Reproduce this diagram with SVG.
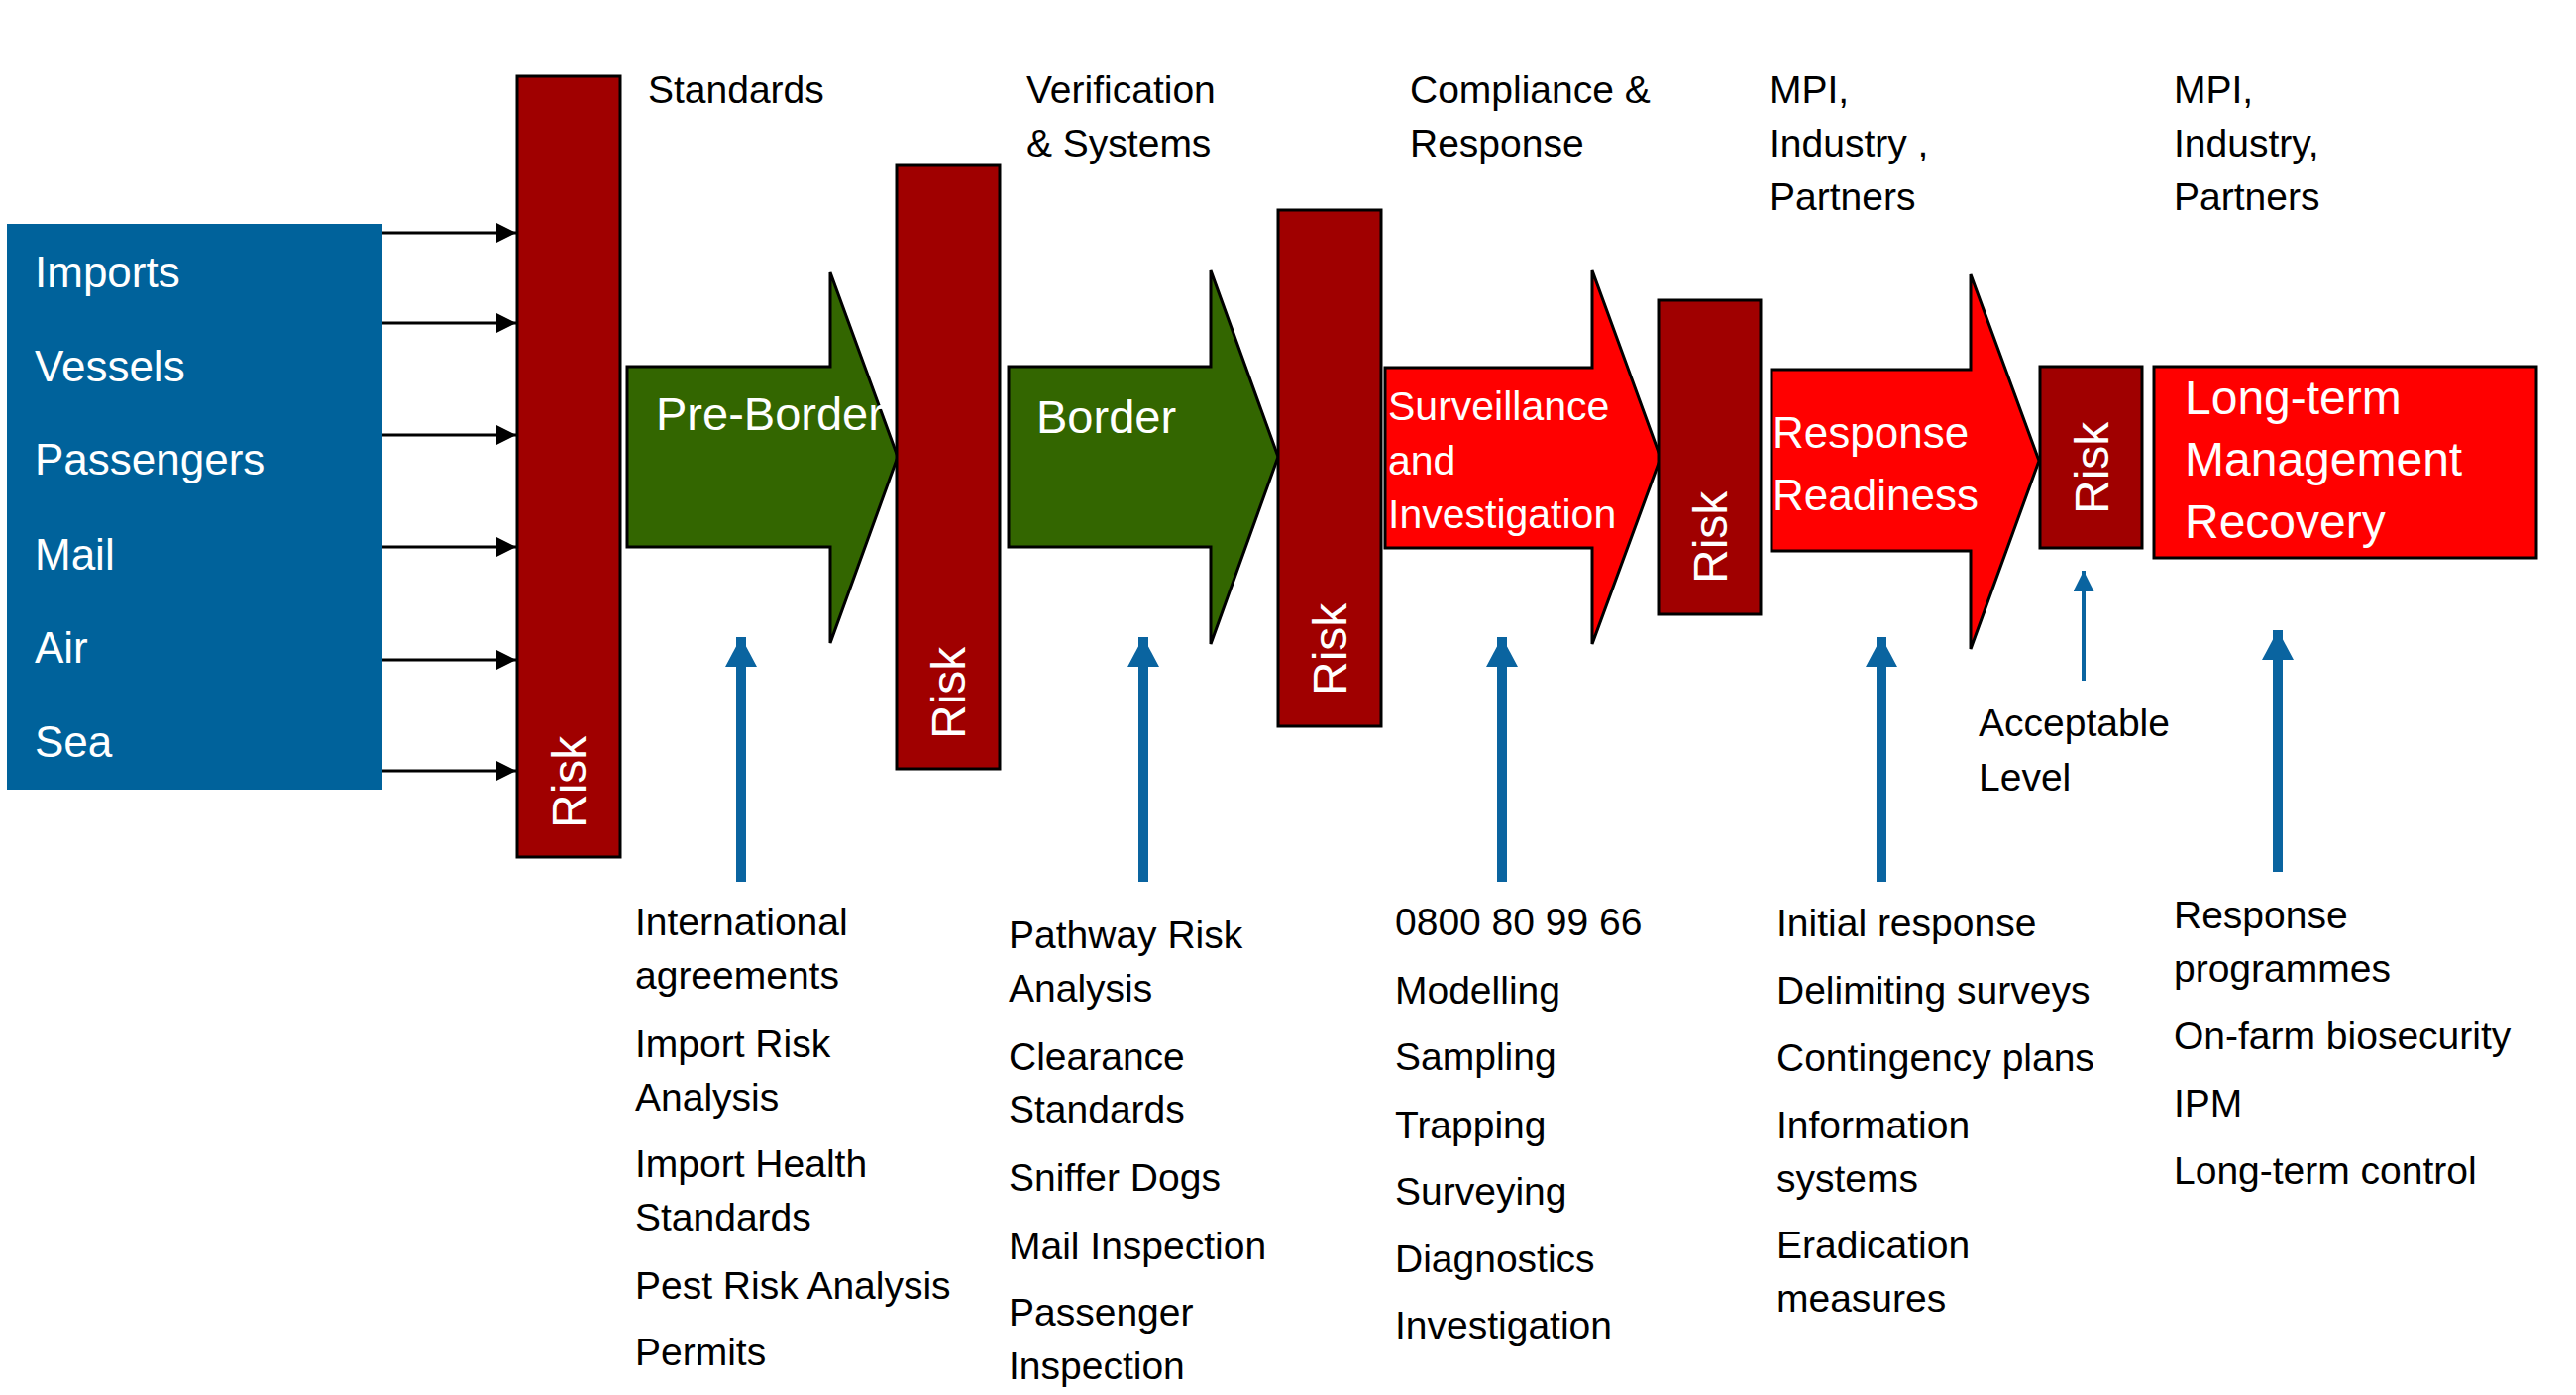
<svg xmlns="http://www.w3.org/2000/svg" width="2600" height="1408" viewBox="0 0 2600 1408">
<style>
text{font-family:"Liberation Sans",Arial,sans-serif}
.w{fill:#fff}
.k{fill:#000;font-size:39px}
.risk{fill:#A00000;stroke:#000;stroke-width:3}
.green{fill:#336600;stroke:#000;stroke-width:3}
.red{fill:#FF0000;stroke:#000;stroke-width:3}
.rt{fill:#fff;font-size:48px}
.blue{stroke:#0A64A0;stroke-width:10;fill:none}
.thin{stroke:#0A64A0;stroke-width:4;fill:none}
.blk{stroke:#000;stroke-width:3;fill:none}
</style>
<defs>
<marker id="mk" viewBox="0 0 20 20" refX="20" refY="10" markerWidth="20" markerHeight="20" markerUnits="userSpaceOnUse" orient="auto"><path d="M0,0 L20,10 L0,20 Z" fill="#000"/></marker>
<marker id="mb" viewBox="0 0 30 32" refX="30" refY="16" markerWidth="30" markerHeight="32" markerUnits="userSpaceOnUse" orient="auto"><path d="M0,0 L30,16 L0,32 Z" fill="#0A64A0"/></marker>
<marker id="mt" viewBox="0 0 21 21" refX="21" refY="10.5" markerWidth="21" markerHeight="21" markerUnits="userSpaceOnUse" orient="auto"><path d="M0,0 L21,10.5 L0,21 Z" fill="#0A64A0"/></marker>
</defs>
<rect width="2600" height="1408" fill="#fff"/>

<g id="sources">
<rect x="7" y="226" width="379" height="571" fill="#00629B"/>
<text class="w" font-size="44" x="35" y="290">Imports</text>
<text class="w" font-size="44" x="35" y="385">Vessels</text>
<text class="w" font-size="44" x="35" y="479">Passengers</text>
<text class="w" font-size="44" x="35" y="575">Mail</text>
<text class="w" font-size="44" x="35" y="669">Air</text>
<text class="w" font-size="44" x="35" y="764">Sea</text>
</g>

<g id="connectors">
<line class="blk" x1="386" y1="235" x2="521" y2="235" marker-end="url(#mk)"/>
<line class="blk" x1="386" y1="326" x2="521" y2="326" marker-end="url(#mk)"/>
<line class="blk" x1="386" y1="439" x2="521" y2="439" marker-end="url(#mk)"/>
<line class="blk" x1="386" y1="552" x2="521" y2="552" marker-end="url(#mk)"/>
<line class="blk" x1="386" y1="666" x2="521" y2="666" marker-end="url(#mk)"/>
<line class="blk" x1="386" y1="778" x2="521" y2="778" marker-end="url(#mk)"/>
<line class="blue" x1="748" y1="890" x2="748" y2="643" marker-end="url(#mb)"/>
<line class="blue" x1="1154" y1="890" x2="1154" y2="643" marker-end="url(#mb)"/>
<line class="blue" x1="1516" y1="890" x2="1516" y2="643" marker-end="url(#mb)"/>
<line class="blue" x1="1899" y1="890" x2="1899" y2="643" marker-end="url(#mb)"/>
<line class="blue" x1="2299" y1="880" x2="2299" y2="636" marker-end="url(#mb)"/>
<line class="thin" x1="2103" y1="687" x2="2103" y2="576" marker-end="url(#mt)"/>
</g>

<g id="pre-border">
<polygon class="green" points="633,370 838,370 838,275 906,461 838,649 838,552 633,552"/>
<text class="w" font-size="47" x="662" y="434">Pre-Border</text>
</g>
<g id="border">
<polygon class="green" points="1018,370 1222,370 1222,273 1290,461 1222,650 1222,552 1018,552"/>
<text class="w" font-size="47" x="1046" y="437">Border</text>
</g>
<g id="surveillance">
<polygon class="red" points="1398,371 1607,371 1607,273 1676,462 1607,650 1607,553 1398,553"/>
<text class="w" font-size="41" x="1401" y="424">Surveillance</text>
<text class="w" font-size="41" x="1401" y="479">and</text>
<text class="w" font-size="41" x="1401" y="533">Investigation</text>
</g>
<g id="response-readiness">
<polygon class="red" points="1788,373 1989,373 1989,277 2058,465 1989,655 1989,556 1788,556"/>
<text class="w" font-size="44" x="1789" y="452">Response</text>
<text class="w" font-size="44" x="1789" y="515">Readiness</text>
</g>
<g id="long-term">
<rect class="red" x="2174" y="370" width="386" height="193"/>
<text class="w" font-size="48" x="2205" y="418">Long-term</text>
<text class="w" font-size="48" x="2205" y="480">Management</text>
<text class="w" font-size="48" x="2205" y="543">Recovery</text>
</g>

<g id="risk1">
<rect class="risk" x="522" y="77" width="104" height="788"/>
<text class="rt" transform="translate(591,836) rotate(-90)">Risk</text>
</g>
<g id="risk2">
<rect class="risk" x="905" y="167" width="104" height="609"/>
<text class="rt" transform="translate(974,746) rotate(-90)">Risk</text>
</g>
<g id="risk3">
<rect class="risk" x="1290" y="212" width="104" height="521"/>
<text class="rt" transform="translate(1359,702) rotate(-90)">Risk</text>
</g>
<g id="risk4">
<rect class="risk" x="1674" y="303" width="103" height="317"/>
<text class="rt" transform="translate(1743,589) rotate(-90)">Risk</text>
</g>
<g id="risk5">
<rect class="risk" x="2059" y="370" width="103" height="183"/>
<text class="rt" transform="translate(2128,519) rotate(-90)">Risk</text>
</g>

<g id="top-labels">
<text class="k" x="654" y="104">Standards</text>
<text class="k" x="1036" y="104">Verification</text>
<text class="k" x="1036" y="158">&amp; Systems</text>
<text class="k" x="1423" y="104">Compliance &amp;</text>
<text class="k" x="1423" y="158">Response</text>
<text class="k" x="1786" y="104">MPI,</text>
<text class="k" x="1786" y="158">Industry ,</text>
<text class="k" x="1786" y="212">Partners</text>
<text class="k" x="2194" y="104">MPI,</text>
<text class="k" x="2194" y="158">Industry,</text>
<text class="k" x="2194" y="212">Partners</text>
</g>

<g id="acceptable-level">
<text class="k" x="1997" y="743">Acceptable</text>
<text class="k" x="1997" y="798">Level</text>
</g>

<g id="list-preborder">
<text class="k" x="641" y="944">International</text>
<text class="k" x="641" y="998">agreements</text>
<text class="k" x="641" y="1067">Import Risk</text>
<text class="k" x="641" y="1121">Analysis</text>
<text class="k" x="641" y="1188">Import Health</text>
<text class="k" x="641" y="1242">Standards</text>
<text class="k" x="641" y="1311">Pest Risk Analysis</text>
<text class="k" x="641" y="1378">Permits</text>
</g>
<g id="list-border">
<text class="k" x="1018" y="957">Pathway Risk</text>
<text class="k" x="1018" y="1011">Analysis</text>
<text class="k" x="1018" y="1080">Clearance</text>
<text class="k" x="1018" y="1133">Standards</text>
<text class="k" x="1018" y="1202">Sniffer Dogs</text>
<text class="k" x="1018" y="1271">Mail Inspection</text>
<text class="k" x="1018" y="1338">Passenger</text>
<text class="k" x="1018" y="1392">Inspection</text>
</g>
<g id="list-surveillance">
<text class="k" x="1408" y="944">0800 80 99 66</text>
<text class="k" x="1408" y="1013">Modelling</text>
<text class="k" x="1408" y="1080">Sampling</text>
<text class="k" x="1408" y="1149">Trapping</text>
<text class="k" x="1408" y="1216">Surveying</text>
<text class="k" x="1408" y="1284">Diagnostics</text>
<text class="k" x="1408" y="1351">Investigation</text>
</g>
<g id="list-response">
<text class="k" x="1793" y="945">Initial response</text>
<text class="k" x="1793" y="1013">Delimiting surveys</text>
<text class="k" x="1793" y="1081">Contingency plans</text>
<text class="k" x="1793" y="1149">Information</text>
<text class="k" x="1793" y="1203">systems</text>
<text class="k" x="1793" y="1270">Eradication</text>
<text class="k" x="1793" y="1324">measures</text>
</g>
<g id="list-longterm">
<text class="k" x="2194" y="937">Response</text>
<text class="k" x="2194" y="991">programmes</text>
<text class="k" x="2194" y="1059">On-farm biosecurity</text>
<text class="k" x="2194" y="1127">IPM</text>
<text class="k" x="2194" y="1195">Long-term control</text>
</g>
</svg>
